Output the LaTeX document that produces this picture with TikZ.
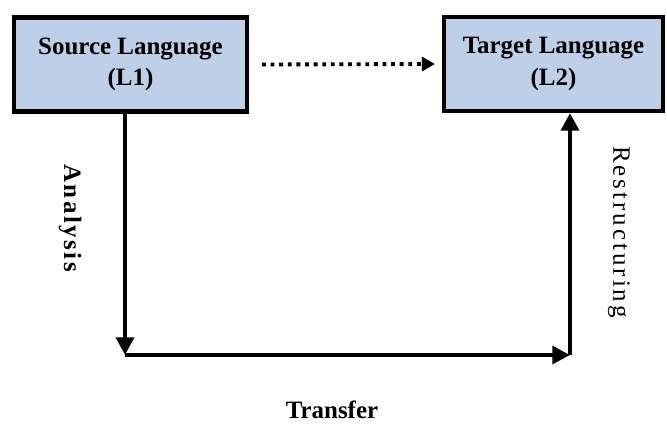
\documentclass[tikz,border=0pt]{standalone}
\usepackage{fontspec}
\setmainfont{Liberation Serif}
\usetikzlibrary{calc}
\usetikzlibrary{arrows.meta}

\definecolor{boxblue}{RGB}{189,208,232}

\begin{document}
\begin{tikzpicture}[x=.02cm, y=-.02cm,
  langbox/.style={draw=black, line width=2.3pt, fill=boxblue, minimum height=1.88cm, align=center, inner sep=0, font=\fontsize{14.2}{18}\selectfont\bfseries},
  flow/.style={black, line width=2.4pt, -{Triangle[length=10pt,width=10pt]}},
  lbl/.style={font=\fontsize{14.2}{17}\selectfont}]
\useasboundingbox (0,0) rectangle (667,424);
\node[langbox, minimum width=4.66cm] (src) at (130.5,64.5) {Source Language\\(L1)};
\node[langbox, minimum width=4.38cm] (tgt) at (553.5,64) {Target Language\\(L2)};
\coordinate (bl) at (125,355);
\coordinate (br) at (570,355);
\draw[flow] (src.south -| bl) -- (bl);
\draw[flow] (bl) -- (br);
\draw[flow] (br) -- (tgt.south -| br);
\draw[flow, line width=2.2pt, dash pattern=on 2.2pt off 2.7pt, -{Triangle[length=7.5pt,width=8pt]}] ($(src.east)+(13,0)$) -- ($(tgt.west)+(-7,0)$);
\node[lbl, rotate=-90, font=\fontsize{14.2}{17}\selectfont\bfseries\addfontfeature{LetterSpace=10}] (ana) at (70,218) {Analysis};
\node[lbl, rotate=-90, font=\fontsize{14.2}{17}\selectfont\addfontfeature{LetterSpace=12}] (res) at (619,232) {Restructuring};
\node[lbl, font=\fontsize{14.2}{17}\selectfont\bfseries] (tra) at (332,410) {Transfer};
\end{tikzpicture}
\end{document}
